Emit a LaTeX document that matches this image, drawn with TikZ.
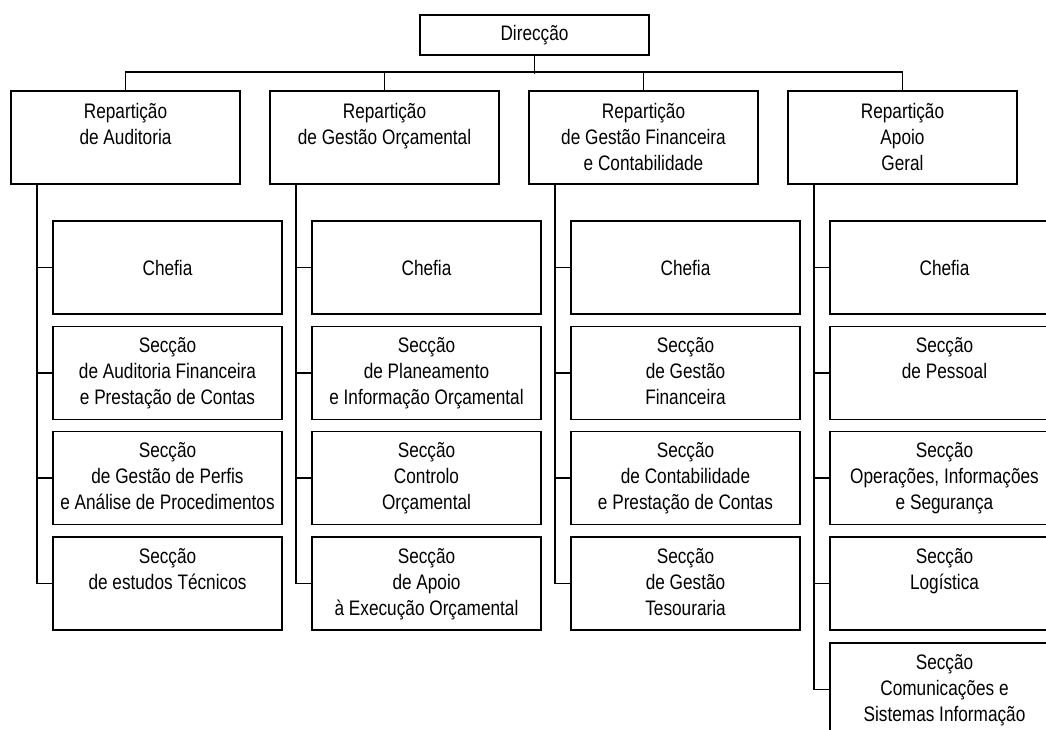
\documentclass[tikz,border=0pt]{standalone}
\usepackage{fontspec}
\setmainfont{Liberation Sans}[FakeStretch=0.82]
\usetikzlibrary{positioning}
\tikzset{
  unit/.style={draw, line width=1.9pt, minimum width=229pt, minimum height=93pt, inner sep=0pt, align=center},
  txt/.style={inner sep=0pt, align=center},
  link/.style={line width=1.9pt}
}
\begin{document}
\begin{tikzpicture}[x=1pt,y=-1pt,font=\fontsize{21}{26}\selectfont]
\useasboundingbox (0,0) rectangle (1046,729);
\clip (0,0) rectangle (1046,729);
\node[draw, line width=1.9pt, minimum width=229pt, minimum height=40pt] (dir) at (534.5,35) {Direcção};

\node[unit] (r1) at (125.5,137.5) {};
\node[unit] (r2) at (384.5,137.5) {};
\node[unit] (r3) at (643.5,137.5) {};
\node[unit] (r4) at (902.5,137.5) {};
\node[txt, below=13pt of r1.north] (q1) {Repartição\\de Auditoria};
\node[txt, below=13pt of r2.north] (q2) {Repartição\\de Gestão Orçamental};
\node[txt, below=13pt of r3.north] (q3) {Repartição\\de Gestão Financeira\\e Contabilidade};
\node[txt, below=13pt of r4.north] (q4) {Repartição\\Apoio\\Geral};

\draw[link] (dir.south) -- ++(0,18);
\draw[link] (r1.north) -- ++(0,-18) -| (r4.north);
\draw[link] (r2.north) -- ++(0,-18);
\draw[link] (r3.north) -- ++(0,-18);

\node[unit] (c1) at (167.5,267.5) {Chefia};
\node[unit] (c2) at (426.5,267.5) {Chefia};
\node[unit] (c3) at (685.5,267.5) {Chefia};
\node[unit] (c4) at (944.5,267.5) {Chefia};

\node[unit] (s12) at (167.5,373) {};
\node[unit] (s13) at (167.5,478) {};
\node[unit] (s14) at (167.5,583.5) {};
\node[txt, below=12pt of s12.north] (t12) {Secção\\de Auditoria Financeira\\e Prestação de Contas};
\node[txt, below=12pt of s13.north] (t13) {Secção\\de Gestão de Perfis\\e Análise de Procedimentos};
\node[txt, below=12pt of s14.north] (t14) {Secção\\de estudos Técnicos};

\node[unit] (s22) at (426.5,373) {};
\node[unit] (s23) at (426.5,478) {};
\node[unit] (s24) at (426.5,583.5) {};
\node[txt, below=12pt of s22.north] (t22) {Secção\\de Planeamento\\e Informação Orçamental};
\node[txt, below=12pt of s23.north] (t23) {Secção\\Controlo\\Orçamental};
\node[txt, below=12pt of s24.north] (t24) {Secção\\de Apoio\\à Execução Orçamental};

\node[unit] (s32) at (685.5,373) {};
\node[unit] (s33) at (685.5,478) {};
\node[unit] (s34) at (685.5,583.5) {};
\node[txt, below=12pt of s32.north] (t32) {Secção\\de Gestão\\Financeira};
\node[txt, below=12pt of s33.north] (t33) {Secção\\de Contabilidade\\e Prestação de Contas};
\node[txt, below=12pt of s34.north] (t34) {Secção\\de Gestão\\Tesouraria};

\node[unit] (s42) at (944.5,373) {};
\node[unit] (s43) at (944.5,478) {};
\node[unit] (s44) at (944.5,583.5) {};
\node[unit] (s45) at (944.5,689.5) {};
\node[txt, below=12pt of s42.north] (t42) {Secção\\de Pessoal};
\node[txt, below=12pt of s43.north] (t43) {Secção\\Operações, Informações\\e Segurança};
\node[txt, below=12pt of s44.north] (t44) {Secção\\Logística};
\node[txt, below=12pt of s45.north] (t45) {Secção\\Comunicações e\\Sistemas Informação};

\foreach \b in {c1,s12,s13,s14}
  \draw[link] ([xshift=27pt]r1.south west) |- (\b.west);
\foreach \b in {c2,s22,s23,s24}
  \draw[link] ([xshift=27pt]r2.south west) |- (\b.west);
\foreach \b in {c3,s32,s33,s34}
  \draw[link] ([xshift=27pt]r3.south west) |- (\b.west);
\foreach \b in {c4,s42,s43,s44,s45}
  \draw[link] ([xshift=27pt]r4.south west) |- (\b.west);
\end{tikzpicture}
\end{document}
